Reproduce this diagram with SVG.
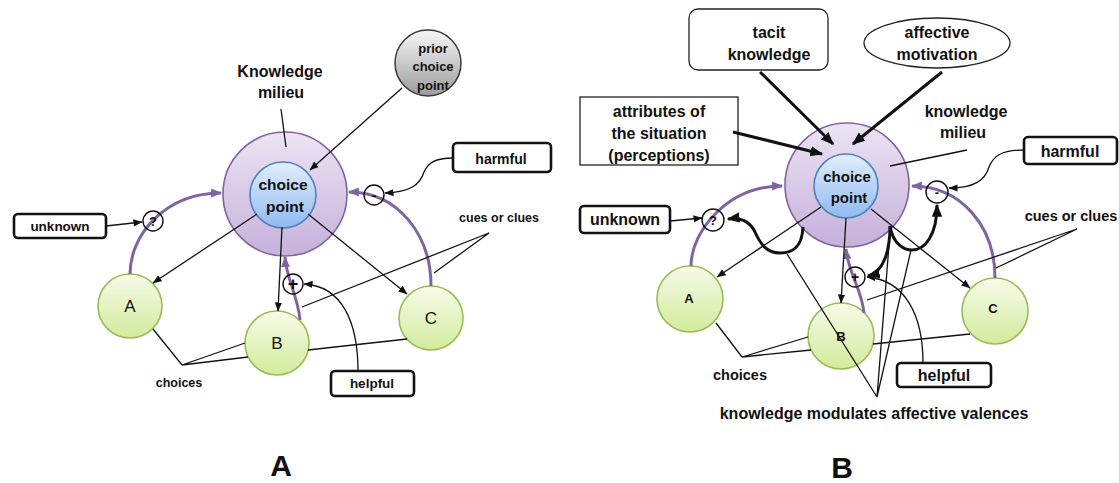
<svg xmlns="http://www.w3.org/2000/svg" width="1119" height="483" viewBox="0 0 1119 483">
<style>
text{font-family:"Liberation Sans",Arial,sans-serif;fill:#111;text-anchor:middle}
.b{font-weight:bold}
.ln{fill:none;stroke:#111;stroke-width:1.3}
.tk{fill:none;stroke:#111;stroke-width:3}
.pu{fill:none;stroke:#8064a2;stroke-width:3}
.box{fill:#fff;stroke:#111;stroke-width:2.6}
.thin{fill:#fff;stroke:#222;stroke-width:1.3}
.sc{fill:none;stroke:#111;stroke-width:1.4}
.mil{fill:url(#gM);stroke:#8064a2;stroke-width:1.6}
.cp{fill:url(#gC);stroke:#4f81bd;stroke-width:1.6}
.gr{fill:url(#gG);stroke:#9bbb59;stroke-width:1.6}
</style>
<defs>
<linearGradient id="gM" x1="0" y1="0" x2="0" y2="1"><stop offset="0" stop-color="#ece4f4"/><stop offset="1" stop-color="#c6b0da"/></linearGradient>
<linearGradient id="gC" x1="0" y1="0" x2="0" y2="1"><stop offset="0" stop-color="#e3eefc"/><stop offset="1" stop-color="#8fbaf0"/></linearGradient>
<linearGradient id="gG" x1="0" y1="0" x2="0" y2="1"><stop offset="0" stop-color="#f7fbe8"/><stop offset="1" stop-color="#d2eb9c"/></linearGradient>
<linearGradient id="gY" x1="0" y1="0" x2="0" y2="1"><stop offset="0" stop-color="#f7f7f7"/><stop offset="1" stop-color="#9c9c9c"/></linearGradient>
<marker id="ah" viewBox="0 0 10 10" refX="9.5" refY="5" markerWidth="9" markerHeight="9" markerUnits="userSpaceOnUse" orient="auto"><path d="M0,1 L10,5 L0,9 z" fill="#111"/></marker>
<marker id="ahp" viewBox="0 0 10 10" refX="9" refY="5" markerWidth="11" markerHeight="11" markerUnits="userSpaceOnUse" orient="auto"><path d="M0,1 L10,5 L0,9 z" fill="#8064a2"/></marker>
<marker id="ahk" viewBox="0 0 10 10" refX="9" refY="5" markerWidth="13" markerHeight="13" markerUnits="userSpaceOnUse" orient="auto"><path d="M0,1 L10,5 L0,9 z" fill="#111"/></marker>
</defs>

<!-- ===== Panel A nodes ===== -->
<g id="a-milieu"><circle class="mil" cx="285" cy="194" r="62"/></g>
<g id="a-choicepoint"><circle class="cp" cx="283" cy="195" r="33"/><text class="b" x="283" y="190" font-size="15.5">choice</text><text class="b" x="285" y="212" font-size="15.5">point</text></g>
<g id="a-milieu-label"><text class="b" x="280" y="77" font-size="16">Knowledge</text><text class="b" x="281" y="98" font-size="16">milieu</text></g>
<g id="a-prior"><circle cx="428" cy="63" r="33" fill="url(#gY)" stroke="#3a3a3a" stroke-width="1.5"/><text class="b" x="433" y="53" font-size="13">prior</text><text class="b" x="433" y="71" font-size="13">choice</text><text class="b" x="433" y="90" font-size="13">point</text></g>
<g id="a-harmful"><rect class="box" x="453" y="143" width="98" height="29" rx="4"/><text class="b" x="501" y="164" font-size="14">harmful</text></g>
<g id="a-unknown"><rect class="box" x="14" y="214" width="92" height="24" rx="4"/><text class="b" x="60" y="231" font-size="13.5">unknown</text></g>
<g id="a-helpful"><rect class="box" x="331" y="371" width="83" height="25" rx="4"/><text class="b" x="372" y="388" font-size="13.5">helpful</text></g>
<g id="a-A"><circle class="gr" cx="130" cy="306" r="32"/><text x="130" y="312" font-size="17">A</text></g>
<g id="a-B"><circle class="gr" cx="277" cy="343" r="32"/><text x="277" y="349" font-size="17">B</text></g>
<g id="a-C"><circle class="gr" cx="431" cy="318" r="32"/><text x="431" y="324" font-size="17">C</text></g>
<g id="a-cues"><text class="b" x="499" y="222" font-size="12.5">cues or clues</text></g>
<g id="a-choices"><text class="b" x="179" y="387" font-size="12.5">choices</text></g>
<g id="a-title"><text class="b" x="281" y="476" font-size="30">A</text></g>

<!-- ===== Panel B nodes ===== -->
<g id="b-milieu"><circle class="mil" cx="847" cy="185" r="62"/></g>
<g id="b-choicepoint"><circle class="cp" cx="846" cy="186" r="32"/><text class="b" x="847" y="182" font-size="15">choice</text><text class="b" x="849" y="203" font-size="15">point</text></g>
<g id="b-milieu-label"><text class="b" x="966" y="117" font-size="16">knowledge</text><text class="b" x="963" y="138" font-size="16">milieu</text></g>
<g id="b-tacit"><rect class="thin" x="689" y="9" width="139" height="61" rx="9"/><text class="b" x="769" y="38" font-size="16">tacit</text><text class="b" x="769" y="60" font-size="16">knowledge</text></g>
<g id="b-affective"><ellipse class="thin" cx="937" cy="43" rx="73" ry="25"/><text class="b" x="937" y="38" font-size="16">affective</text><text class="b" x="937" y="60" font-size="16">motivation</text></g>
<g id="b-attributes"><rect class="thin" x="580" y="97" width="158" height="68"/><text class="b" x="659" y="117" font-size="16">attributes of</text><text class="b" x="659" y="139" font-size="16">the situation</text><text class="b" x="659" y="161" font-size="16">(perceptions)</text></g>
<g id="b-harmful"><rect class="box" x="1024" y="137" width="93" height="27" rx="4"/><text class="b" x="1070" y="157" font-size="16">harmful</text></g>
<g id="b-unknown"><rect class="box" x="580" y="206" width="90" height="27" rx="4"/><text class="b" x="625" y="225" font-size="16">unknown</text></g>
<g id="b-helpful"><rect class="box" x="897" y="363" width="94" height="24" rx="4"/><text class="b" x="944" y="381" font-size="16">helpful</text></g>
<g id="b-A"><circle class="gr" cx="690" cy="299" r="33"/><text class="b" x="689" y="303" font-size="13">A</text></g>
<g id="b-B"><circle class="gr" cx="841" cy="336" r="33"/><text class="b" x="841" y="341" font-size="13">B</text></g>
<g id="b-C"><circle class="gr" cx="995" cy="311" r="33"/><text class="b" x="993" y="313" font-size="13">C</text></g>
<g id="b-cues"><text class="b" x="1071" y="221" font-size="14.5">cues or clues</text></g>
<g id="b-choices"><text class="b" x="740" y="380" font-size="14.5">choices</text></g>
<g id="b-modulates"><text class="b" x="874" y="419" font-size="16">knowledge modulates affective valences</text></g>
<g id="b-title"><text class="b" x="842" y="478" font-size="30">B</text></g>

<!-- ===== Connectors ===== -->
<g id="connectors">
  <!-- Panel A -->
  <path class="pu" d="M130,274 C130,235 165,193 221,193" marker-end="url(#ahp)"/>
  <path class="pu" d="M431,286 C431,235 398,192 349,192" marker-end="url(#ahp)"/>
  <path class="pu" d="M300,320 C298,296 286,278 285,257" marker-end="url(#ahp)"/>
  <path class="ln" d="M281,109 L286,147"/>
  <path class="ln" d="M402,88 L310,170" marker-end="url(#ah)"/>
  <path class="ln" d="M257,214 L153,283" marker-end="url(#ah)"/>
  <path class="ln" d="M282,227 L278,311" marker-end="url(#ah)"/>
  <path class="ln" d="M308,214 L407,294" marker-end="url(#ah)"/>
  <path class="ln" d="M106,226 L142,222" marker-end="url(#ah)"/>
  <path class="ln" d="M453,158 C435,158 428,163 424,172 C420,185 410,192 385,193" marker-end="url(#ah)"/>
  <path class="ln" d="M358,371 C358,322 342,286 304,284" marker-end="url(#ah)"/>
  <path class="ln" d="M489,233 L434,273 M489,233 L302,307"/>
  <path class="ln" d="M182,365 L153,329 M182,365 L245,343 M182,365 L248,357 M308,350 L407,339"/>
  <circle class="sc" cx="153" cy="221" r="10"/><text class="b" x="153" y="226" font-size="13">?</text>
  <circle class="sc" cx="374" cy="195" r="10"/><text class="b" x="374" y="200" font-size="15">-</text>
  <circle class="sc" cx="293" cy="284" r="10"/><text class="b" x="293" y="290" font-size="18">+</text>

  <!-- Panel B -->
  <path class="pu" d="M691,266 C691,232 727,186 782,186" marker-end="url(#ahp)"/>
  <path class="pu" d="M995,278 C995,225 960,186 912,186" marker-end="url(#ahp)"/>
  <path class="pu" d="M864,313 C862,290 848,272 846,249" marker-end="url(#ahp)"/>
  <path class="tk" d="M760,72 L833,144" marker-end="url(#ahk)"/>
  <path class="tk" d="M942,72 L853,144" marker-end="url(#ahk)"/>
  <path class="tk" d="M733,132 L822,154" marker-end="url(#ahk)"/>
  <path class="ln" d="M967,150 L890,166"/>
  <path class="ln" d="M821,207 L717,277" marker-end="url(#ah)"/>
  <path class="ln" d="M846,218 L841,303" marker-end="url(#ah)"/>
  <path class="ln" d="M871,209 L970,288" marker-end="url(#ah)"/>
  <path class="ln" d="M670,221 L702,218" marker-end="url(#ah)"/>
  <path class="ln" d="M1024,150 C1000,150 993,157 989,167 C985,180 975,188 949,188" marker-end="url(#ah)"/>
  <path class="ln" d="M923,363 C923,315 905,280 867,277" marker-end="url(#ah)"/>
  <path class="ln" d="M1077,229 L996,268 M1077,229 L867,300"/>
  <path class="ln" d="M742,357 L716,323 M742,357 L808,337 M742,357 L811,350 M873,344 L970,334"/>
  <path class="ln" d="M877,397 L787,254 M877,397 L889,245 M877,397 L911,250"/>
  <path class="tk" d="M803,227 C802,250 790,253 780,253 C766,253 760,243 755,232 C750,222 742,217 728,219" stroke-width="2.6" marker-end="url(#ahk)"/>
  <path class="tk" d="M890,226 C890,250 884,272 868,276" stroke-width="2.6" marker-end="url(#ahk)"/>
  <path class="tk" d="M890,226 C893,245 905,250 912,250 C925,250 937,235 937,205" stroke-width="2.6" marker-end="url(#ahk)"/>
  <circle class="sc" cx="713" cy="220" r="11"/><text class="b" x="713" y="225" font-size="13">?</text>
  <circle class="sc" cx="937" cy="192" r="11"/><text class="b" x="937" y="197" font-size="13">-</text>
  <circle class="sc" cx="855" cy="277" r="10"/><text class="b" x="855" y="282" font-size="14">+</text>
</g>
</svg>
